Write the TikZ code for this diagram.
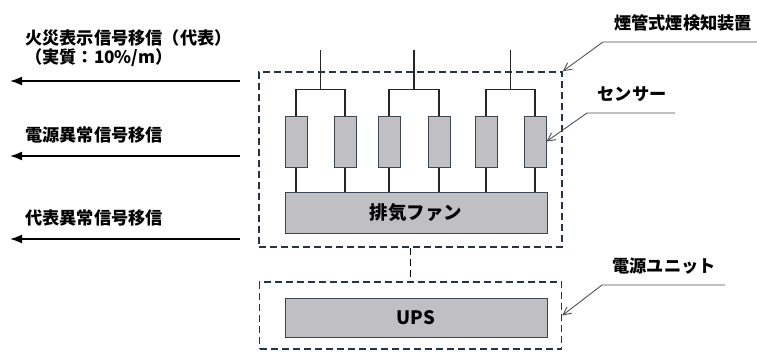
\documentclass[tikz,border=0pt]{standalone}
\usepackage{fontspec}
\setmainfont{Noto Sans CJK JP}
\usepackage{xcolor}
\definecolor{frame}{HTML}{24344F}
\definecolor{unit}{HTML}{C0C0C2}
\definecolor{edge}{HTML}{3A4654}
\definecolor{lead}{HTML}{505050}
\usetikzlibrary{arrows.meta,positioning,calc}
\tikzset{
  dbox/.style   = {rectangle, draw=frame, dash pattern=on 7pt off 4pt,
                   line width=1.5pt, inner sep=0pt},
  unitbox/.style= {rectangle, draw=edge, fill=unit, line width=1pt,
                   font=\bfseries\fontsize{18.5}{20}\selectfont, inner sep=0pt},
  sensor/.style = {rectangle, draw=edge, fill=unit, line width=1pt,
                   minimum width=22pt, minimum height=51pt, inner sep=0pt},
  lbl/.style    = {inner sep=0pt, font=\bfseries\fontsize{17.2}{19}\selectfont},
  wire/.style   = {line width=1.3pt, draw=black!85},
  sig/.style    = {-{Latex[length=12pt,width=9pt]}, line width=1.7pt, draw=black},
  ldr/.style    = {-{Straight Barb[length=8pt,width=8pt]}, line width=0.9pt, draw=lead}
}

\begin{document}
\begin{tikzpicture}[x=1pt,y=-1pt]
  \useasboundingbox (0,0) rectangle (757,351);
  % dashed enclosures
  \node[dbox, minimum width=303pt, minimum height=175pt] (det) at (410.5,159.5) {};
  \node[dbox, minimum width=302pt, minimum height=67pt]  (psu) at (410.5,315.5) {};
  \draw[dbox, draw=black] (det.south) -- (psu.north);
  % fan and UPS
  \node[unitbox, minimum width=262pt, minimum height=41pt] (fan) at (416,212.5) {排気ファン};
  \node[unitbox, minimum width=262pt, minimum height=39pt] (ups) at (416,317.5) {UPS};
  % sensors
  \foreach \i/\x in {1/296,2/345,3/389,4/439,5/486,6/535}
    \node[sensor] (s\i) at (\x,141.5) {};
  \foreach \i in {1,...,6}
    \draw[wire] (s\i.south) -- (s\i.south |- fan.north);
  \foreach \a/\b in {1/2,3/4,5/6} {
    \draw[wire] (s\a.north) -- ++(0,-26) coordinate (j\a) -| (s\b.north);
    \draw[wire] ($(j\a)!0.5!(s\b.north |- j\a)$) -- ++(0,-40);
  }
  % signal outputs
  \node[lbl, anchor=west] (t1) at (25,38) {火災表示信号移信（代表）};
  \node[lbl, anchor=west] (t1b) at (25,58) {（実質：10\%/m）};
  \node[lbl, anchor=west] (t2) at (25,135) {電源異常信号移信};
  \node[lbl, anchor=west] (t3) at (25,218) {代表異常信号移信};
  \foreach \n/\y in {1/81,2/156,3/239} {
    \coordinate (o\n) at (240,\y);
    \coordinate (e\n) at (10,\y);
    \draw[sig] (o\n) -- (e\n);
  }
  % callouts
  \node[lbl] (c1) at (683,23) {煙管式煙検知装置};
  \node[lbl] (c2) at (632,94) {センサー};
  \node[lbl] (c3) at (664,266) {電源ユニット};
  \coordinate (h1) at (757,42);  \coordinate (k1) at (603,42);
  \coordinate (h2) at (675,113); \coordinate (k2) at (587,113);
  \coordinate (h3) at (725,285); \coordinate (k3) at (602,285);
  \draw[ldr] (h1) -- (k1) -- (det.north east);
  \draw[ldr] (h2) -- (k2) -- (s6.east);
  \draw[ldr] (h3) -- (k3) -- (psu.east);
\end{tikzpicture}
\end{document}
